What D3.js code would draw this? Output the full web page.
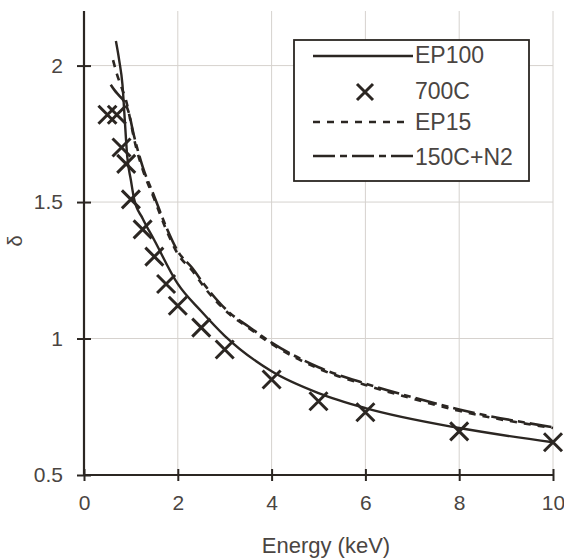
<!DOCTYPE html>
<html>
<head>
<meta charset="utf-8">
<script src="https://cdn.jsdelivr.net/npm/d3@7"></script>
<style>
  html, body { margin: 0; padding: 0; background: #fff; }
  svg { display: block; font-family: "Liberation Sans", Arial, sans-serif; }
</style>
</head>
<body>
<div id="chart"></div>
<script>
// ── data ─────────────────────────────────────────────────
const xTicks = [0, 2, 4, 6, 8, 10];
const yTicks = [0.5, 1, 1.5, 2];

const energyEP100 = [0.68, 0.75, 0.82, 0.87, 0.92, 1.0, 1.07, 1.25, 1.5, 2, 2.5, 3, 4, 5, 6, 8, 10];
const deltaEP100  = [2.09, 2.02, 1.93, 1.80, 1.67, 1.58, 1.51, 1.44, 1.36, 1.20, 1.10, 1.01, 0.88, 0.80, 0.745, 0.672, 0.62];

const energy700C = [0.5, 0.7, 0.8, 0.9, 1.0, 1.25, 1.5, 1.75, 2, 2.5, 3, 4, 5, 6, 8, 10];
const delta700C  = [1.82, 1.82, 1.70, 1.64, 1.51, 1.40, 1.30, 1.20, 1.12, 1.04, 0.96, 0.85, 0.77, 0.73, 0.66, 0.62];

const energyEP15 = [0.62, 0.7, 0.8, 0.9, 1.0, 1.07, 1.25, 1.5, 1.75, 2.0, 2.3, 2.6, 3.1, 3.5, 4, 5, 6, 7, 8, 10];
const deltaEP15  = [2.02, 1.97, 1.92, 1.87, 1.79, 1.73, 1.62, 1.51, 1.40, 1.31, 1.25, 1.18, 1.09, 1.04, 0.98, 0.89, 0.83, 0.78, 0.735, 0.672];

const energy150C = [0.57, 0.65, 0.75, 0.85, 0.95, 1.07, 1.25, 1.5, 1.75, 2.0, 2.3, 2.6, 3.1, 3.5, 4, 5, 6, 7, 8, 10];
const delta150C  = [1.93, 1.91, 1.89, 1.87, 1.83, 1.74, 1.63, 1.52, 1.41, 1.32, 1.26, 1.19, 1.095, 1.045, 0.985, 0.895, 0.835, 0.785, 0.74, 0.675];

const legendLabels = ["EP100", "700C", "EP15", "150C+N2"];

// ── canvas ───────────────────────────────────────────────
const width = 564, height = 559;
const ink = "#2b2622", gridCol = "#d6d2ce", textCol = "#4a4542";

const svg = d3.select("#chart").append("svg").attr("width", width).attr("height", height);

const x = d3.scaleLinear().domain([0, 10]).range([84, 553]);
const y = d3.scaleLinear().domain([0.5, 2.2]).range([475, 11]);

// ── grid ─────────────────────────────────────────────────
svg.append("g").selectAll("line")
    .data(xTicks.filter(t => t > 0)).enter().append("line")
    .attr("x1", d => x(d)).attr("x2", d => x(d))
    .attr("y1", y(0.5)).attr("y2", y(2.2))
    .attr("stroke", gridCol).attr("stroke-width", 1);

svg.append("g").selectAll("line")
    .data(yTicks.filter(t => t > 0.5)).enter().append("line")
    .attr("x1", x(0)).attr("x2", x(10))
    .attr("y1", d => y(d)).attr("y2", d => y(d))
    .attr("stroke", gridCol).attr("stroke-width", 1);

// ── axes ─────────────────────────────────────────────────
const xAxis = svg.append("g").attr("transform", `translate(0,${y(0.5)})`)
    .call(d3.axisBottom(x).tickValues(xTicks).tickSizeInner(6).tickSizeOuter(0).tickPadding(14));
const yAxis = svg.append("g").attr("transform", `translate(${x(0)},0)`)
    .call(d3.axisLeft(y).tickValues(yTicks).tickSizeInner(7).tickSizeOuter(0).tickPadding(14)
        .tickFormat(d3.format("")));

[xAxis, yAxis].forEach(a => {
    a.select(".domain").attr("stroke", ink).attr("stroke-width", 2.2);
    a.selectAll(".tick line").attr("stroke", ink).attr("stroke-width", 2);
    a.selectAll(".tick text").attr("fill", textCol).style("font-size", "21px");
});
// ticks cross the axis line
xAxis.selectAll(".tick line").attr("y1", -6);
yAxis.selectAll(".tick line").attr("x1", 7);
xAxis.select(".domain").attr("d", `M${x(0)},0H${x(10)}`);
yAxis.select(".domain").attr("d", `M0,${y(2.2)}V${y(0.5)}`);

svg.append("text")
    .attr("x", 326).attr("y", 553)
    .attr("text-anchor", "middle").attr("fill", textCol)
    .style("font-size", "22px").text("Energy (keV)");

svg.append("text")
    .attr("transform", "translate(22,241) rotate(-90)")
    .attr("text-anchor", "middle").attr("fill", textCol)
    .style("font-size", "20px").text("δ");

// ── series ───────────────────────────────────────────────
const line = d3.line().x(d => x(d[0])).y(d => y(d[1])).curve(d3.curveMonotoneX);
const zip = (a, b) => a.map((v, i) => [v, b[i]]);

svg.append("path").datum(zip(energy150C, delta150C))
    .attr("d", line).attr("fill", "none").attr("stroke", ink)
    .attr("stroke-width", 2.6).attr("stroke-dasharray", "22,5,7,5");

svg.append("path").datum(zip(energyEP15, deltaEP15))
    .attr("d", line).attr("fill", "none").attr("stroke", ink)
    .attr("stroke-width", 2.6).attr("stroke-dasharray", "7,7");

svg.append("path").datum(zip(energyEP100, deltaEP100))
    .attr("d", line).attr("fill", "none").attr("stroke", ink).attr("stroke-width", 2.4);

const cross = (g, s) => g.append("path")
    .attr("d", `M${-s},${-s}L${s},${s}M${-s},${s}L${s},${-s}`)
    .attr("stroke", ink).attr("stroke-width", 3).attr("fill", "none");

svg.append("g").selectAll("g")
    .data(zip(energy700C, delta700C)).enter().append("g")
    .attr("transform", d => `translate(${x(d[0])},${y(d[1])})`)
    .each(function() { cross(d3.select(this), 9); });

// ── legend ───────────────────────────────────────────────
const lg = svg.append("g");
lg.append("rect").attr("x", 294).attr("y", 40).attr("width", 235).attr("height", 141)
    .attr("fill", "#fff").attr("stroke", ink).attr("stroke-width", 1.8);

const rowsY = [56, 92, 122, 156];
const textY = [63, 99, 130, 165];

lg.append("line").attr("x1", 313).attr("x2", 413).attr("y1", rowsY[0]).attr("y2", rowsY[0])
    .attr("stroke", ink).attr("stroke-width", 2.4);
cross(lg.append("g").attr("transform", `translate(365,${rowsY[1]})`), 8);
lg.append("line").attr("x1", 313).attr("x2", 406).attr("y1", rowsY[2]).attr("y2", rowsY[2])
    .attr("stroke", ink).attr("stroke-width", 2.4).attr("stroke-dasharray", "7,7");
lg.append("line").attr("x1", 313).attr("x2", 413).attr("y1", rowsY[3]).attr("y2", rowsY[3])
    .attr("stroke", ink).attr("stroke-width", 2.4).attr("stroke-dasharray", "22,5,7,5");

lg.selectAll("text").data(legendLabels).enter().append("text")
    .attr("x", 415).attr("y", (d, i) => textY[i])
    .attr("fill", textCol).style("font-size", "23px")
    .text(d => d);
</script>
</body>
</html>
